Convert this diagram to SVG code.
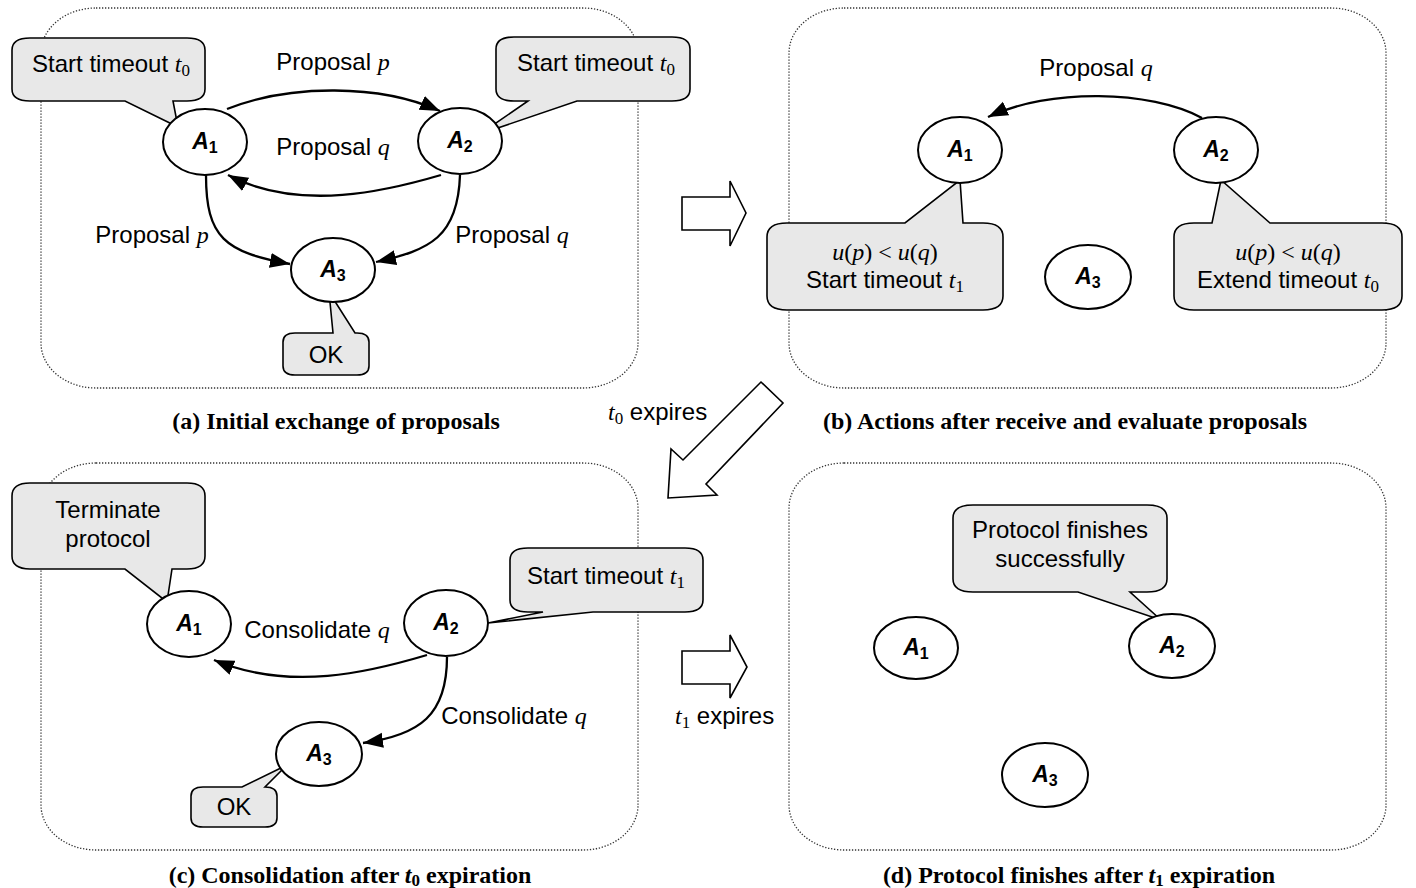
<svg xmlns="http://www.w3.org/2000/svg" width="1416" height="888" viewBox="0 0 1416 888">
<style>
.panel{fill:none;stroke:#333;stroke-width:1.3;stroke-dasharray:1.3 1.7}
.node{fill:#fff;stroke:#000;stroke-width:2}
.call{fill:#e8e8e8;stroke:#000;stroke-width:1.6;stroke-linejoin:miter}
.edge{fill:none;stroke:#000;stroke-width:2.3;marker-end:url(#ah)}
.big{fill:#fff;stroke:#000;stroke-width:1.6}
.lbl{font-family:"Liberation Sans",Arial,sans-serif;font-size:24px;fill:#000}
.nl{font-family:"Liberation Sans",Arial,sans-serif;font-size:23px;font-weight:bold;font-style:italic;fill:#000}
.sub{font-style:normal;font-size:16px}
.m{font-family:"Liberation Serif","Times New Roman",serif;font-style:italic}
.r{font-family:"Liberation Serif","Times New Roman",serif}
.ms{font-family:"Liberation Serif","Times New Roman",serif;font-style:normal;font-size:17px}
.cap{font-family:"Liberation Serif","Times New Roman",serif;font-weight:bold;font-size:24px;fill:#000}
</style>
<defs>
<marker id="ah" markerUnits="userSpaceOnUse" markerWidth="22" markerHeight="16" refX="20" refY="7.5" orient="auto">
<path d="M0,0 L20,7.5 L0,15 Z" fill="#000"/>
</marker>
</defs>
<rect width="1416" height="888" fill="#fff"/>

<g id="panels">
<rect class="panel" x="41" y="8" width="597" height="380" rx="55" ry="45"/>
<rect class="panel" x="789" y="8" width="597" height="380" rx="55" ry="45"/>
<rect class="panel" x="41" y="463" width="597" height="387" rx="55" ry="45"/>
<rect class="panel" x="789" y="463" width="597" height="387" rx="55" ry="45"/>
</g>

<g id="transitions">
<polygon class="big" points="682,197 730,197 730,181 746,213 730,246 730,230 682,230"/>
<polygon class="big" points="761,382 783,403 706,484 717,495 668,498 671,449 683,460"/>
<polygon class="big" points="682,651 730,651 730,635 747,667 730,698 730,684 682,684"/>
<text class="lbl" x="608" y="420"><tspan class="m">t</tspan><tspan class="ms" dy="4">0</tspan><tspan dy="-4"> expires</tspan></text>
<text class="lbl" x="675" y="724"><tspan class="m">t</tspan><tspan class="ms" dy="4">1</tspan><tspan dy="-4"> expires</tspan></text>
</g>

<g id="connectors">
<path class="edge" d="M227,109 C290,84 380,84 440,111"/>
<path class="edge" d="M441,175 C390,190 300,213 228,175"/>
<path class="edge" d="M206,175 C206,238 225,252 290,264"/>
<path class="edge" d="M460,175 C458,237 430,250 376,262"/>
<path class="edge" d="M1202,118 C1150,90 1050,88 988,117"/>
<path class="edge" d="M427,655 C370,672 290,692 214,660"/>
<path class="edge" d="M447,657 C447,715 420,735 363,743"/>
</g>

<g id="edge-labels">
<text class="lbl" x="333" y="70" text-anchor="middle">Proposal <tspan class="m">p</tspan></text>
<text class="lbl" x="333" y="155" text-anchor="middle">Proposal <tspan class="m">q</tspan></text>
<text class="lbl" x="152" y="243" text-anchor="middle">Proposal <tspan class="m">p</tspan></text>
<text class="lbl" x="512" y="243" text-anchor="middle">Proposal <tspan class="m">q</tspan></text>
<text class="lbl" x="1096" y="76" text-anchor="middle">Proposal <tspan class="m">q</tspan></text>
<text class="lbl" x="317" y="638" text-anchor="middle">Consolidate <tspan class="m">q</tspan></text>
<text class="lbl" x="514" y="724" text-anchor="middle">Consolidate <tspan class="m">q</tspan></text>
</g>

<g id="a-callout-a1">
<path class="call" d="M30,38 H187 Q205,38 205,50 V89 Q205,101 187,101 H173 L178,127 L125,101 H30 Q12,101 12,89 V50 Q12,38 30,38 Z"/>
<text class="lbl" x="111" y="72" text-anchor="middle">Start timeout <tspan class="m">t</tspan><tspan class="ms" dy="4">0</tspan></text>
</g>
<g id="a-callout-a2">
<path class="call" d="M514,37 H672 Q690,37 690,49 V89 Q690,101 672,101 H577 L480,134 L528,101 H514 Q496,101 496,89 V49 Q496,37 514,37 Z"/>
<text class="lbl" x="596" y="71" text-anchor="middle">Start timeout <tspan class="m">t</tspan><tspan class="ms" dy="4">0</tspan></text>
</g>
<g id="a-callout-a3">
<path class="call" d="M295,333 H333 L329,292 L355,333 H357 Q369,333 369,342 V366 Q369,375 357,375 H295 Q283,375 283,366 V342 Q283,333 295,333 Z"/>
<text class="lbl" x="326" y="363" text-anchor="middle">OK</text>
</g>

<g id="a-A1"><ellipse class="node" cx="205" cy="142" rx="42" ry="33"/><text class="nl" x="205" y="149" text-anchor="middle">A<tspan class="sub" dy="4">1</tspan></text></g>
<g id="a-A2"><ellipse class="node" cx="460" cy="141" rx="42" ry="33"/><text class="nl" x="460" y="148" text-anchor="middle">A<tspan class="sub" dy="4">2</tspan></text></g>
<g id="a-A3"><ellipse class="node" cx="333" cy="270" rx="42" ry="32"/><text class="nl" x="333" y="277" text-anchor="middle">A<tspan class="sub" dy="4">3</tspan></text></g>

<g id="b-callout-a1">
<path class="call" d="M787,223 H905 L960,180 L963,223 H983 Q1003,223 1003,237 V296 Q1003,310 983,310 H787 Q767,310 767,296 V237 Q767,223 787,223 Z"/>
<text class="lbl" x="885" y="260" text-anchor="middle"><tspan class="m">u</tspan><tspan class="r">(</tspan><tspan class="m">p</tspan><tspan class="r">) &lt; </tspan><tspan class="m">u</tspan><tspan class="r">(</tspan><tspan class="m">q</tspan><tspan class="r">)</tspan></text>
<text class="lbl" x="885" y="288" text-anchor="middle">Start timeout <tspan class="m">t</tspan><tspan class="ms" dy="4">1</tspan></text>
</g>
<g id="b-callout-a2">
<path class="call" d="M1194,223 H1212 L1221,180 L1270,223 H1382 Q1402,223 1402,237 V296 Q1402,310 1382,310 H1194 Q1174,310 1174,296 V237 Q1174,223 1194,223 Z"/>
<text class="lbl" x="1288" y="260" text-anchor="middle"><tspan class="m">u</tspan><tspan class="r">(</tspan><tspan class="m">p</tspan><tspan class="r">) &lt; </tspan><tspan class="m">u</tspan><tspan class="r">(</tspan><tspan class="m">q</tspan><tspan class="r">)</tspan></text>
<text class="lbl" x="1288" y="288" text-anchor="middle">Extend timeout <tspan class="m">t</tspan><tspan class="ms" dy="4">0</tspan></text>
</g>
<g id="b-A1"><ellipse class="node" cx="960" cy="150" rx="42" ry="33"/><text class="nl" x="960" y="157" text-anchor="middle">A<tspan class="sub" dy="4">1</tspan></text></g>
<g id="b-A2"><ellipse class="node" cx="1216" cy="150" rx="42" ry="33"/><text class="nl" x="1216" y="157" text-anchor="middle">A<tspan class="sub" dy="4">2</tspan></text></g>
<g id="b-A3"><ellipse class="node" cx="1088" cy="277" rx="43" ry="32"/><text class="nl" x="1088" y="284" text-anchor="middle">A<tspan class="sub" dy="4">3</tspan></text></g>

<g id="c-callout-a1">
<path class="call" d="M30,483 H187 Q205,483 205,496 V556 Q205,569 187,569 H172 L167,602 L125,569 H30 Q12,569 12,556 V496 Q12,483 30,483 Z"/>
<text class="lbl" x="108" y="518" text-anchor="middle">Terminate</text>
<text class="lbl" x="108" y="547" text-anchor="middle">protocol</text>
</g>
<g id="c-callout-a2">
<path class="call" d="M528,548 H685 Q703,548 703,560 V600 Q703,612 685,612 H593 L488,623 L543,612 H528 Q510,612 510,600 V560 Q510,548 528,548 Z"/>
<text class="lbl" x="606" y="584" text-anchor="middle">Start timeout <tspan class="m">t</tspan><tspan class="ms" dy="4">1</tspan></text>
</g>
<g id="c-callout-a3">
<path class="call" d="M203,787 H242 L287,765 L265,787 Q277,787 277,796 V818 Q277,827 265,827 H203 Q191,827 191,818 V796 Q191,787 203,787 Z"/>
<text class="lbl" x="234" y="815" text-anchor="middle">OK</text>
</g>
<g id="c-A1"><ellipse class="node" cx="189" cy="624" rx="42" ry="33"/><text class="nl" x="189" y="631" text-anchor="middle">A<tspan class="sub" dy="4">1</tspan></text></g>
<g id="c-A2"><ellipse class="node" cx="446" cy="623" rx="42" ry="33"/><text class="nl" x="446" y="630" text-anchor="middle">A<tspan class="sub" dy="4">2</tspan></text></g>
<g id="c-A3"><ellipse class="node" cx="319" cy="754" rx="43" ry="32"/><text class="nl" x="319" y="761" text-anchor="middle">A<tspan class="sub" dy="4">3</tspan></text></g>

<g id="d-callout-a2">
<path class="call" d="M973,505 H1147 Q1167,505 1167,518 V579 Q1167,592 1147,592 H1130 L1161,620 L1078,592 H973 Q953,592 953,579 V518 Q953,505 973,505 Z"/>
<text class="lbl" x="1060" y="538" text-anchor="middle">Protocol finishes</text>
<text class="lbl" x="1060" y="567" text-anchor="middle">successfully</text>
</g>
<g id="d-A1"><ellipse class="node" cx="916" cy="648" rx="42" ry="31"/><text class="nl" x="916" y="655" text-anchor="middle">A<tspan class="sub" dy="4">1</tspan></text></g>
<g id="d-A2"><ellipse class="node" cx="1172" cy="646" rx="43" ry="32"/><text class="nl" x="1172" y="653" text-anchor="middle">A<tspan class="sub" dy="4">2</tspan></text></g>
<g id="d-A3"><ellipse class="node" cx="1045" cy="775" rx="43" ry="32"/><text class="nl" x="1045" y="782" text-anchor="middle">A<tspan class="sub" dy="4">3</tspan></text></g>

<g id="captions">
<text class="cap" x="336" y="429" text-anchor="middle">(a) Initial exchange of proposals</text>
<text class="cap" x="1065" y="429" text-anchor="middle">(b) Actions after receive and evaluate proposals</text>
<text class="cap" x="350" y="883" text-anchor="middle">(c) Consolidation after <tspan font-style="italic">t</tspan><tspan font-size="17" dy="3">0</tspan><tspan dy="-3"> expiration</tspan></text>
<text class="cap" x="1079" y="883" text-anchor="middle">(d) Protocol finishes after <tspan font-style="italic">t</tspan><tspan font-size="17" dy="3">1</tspan><tspan dy="-3"> expiration</tspan></text>
</g>
</svg>
